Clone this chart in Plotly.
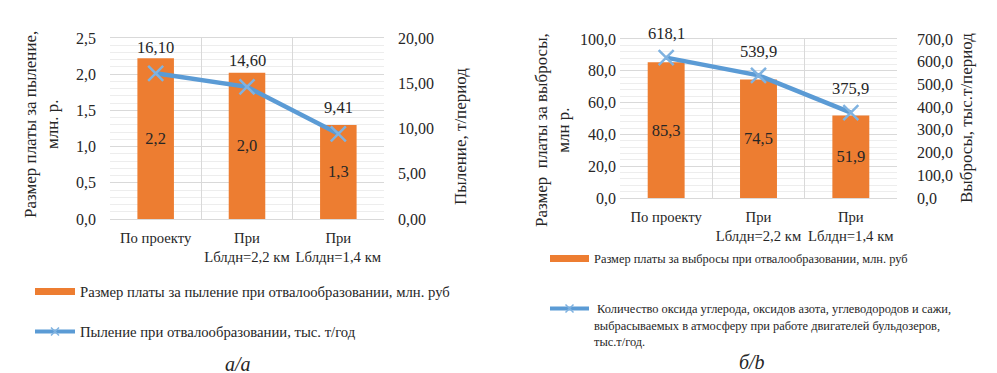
import plotly.graph_objects as go

# ---- data ----
categories = ["По проекту", "При<br>Lблдн=2,2 км", "При<br>Lблдн=1,4 км"]

dust_payment = [2.22, 2.02, 1.30]        # млн. руб (bars, left chart)
dust_amount = [16.10, 14.60, 9.41]       # т/период (line, left chart)

emis_payment = [85.3, 74.5, 51.9]        # млн. руб (bars, right chart)
emis_amount = [618.1, 539.9, 375.9]      # тыс. т/период (line, right chart)

left_ticks_y = [0.0, 0.5, 1.0, 1.5, 2.0, 2.5]
left_ticks_y2 = [0, 5, 10, 15, 20]
right_ticks_y = [0, 20, 40, 60, 80, 100]
right_ticks_y2 = [0, 100, 200, 300, 400, 500, 600, 700]

name_bar_a = "Размер платы за пыление при отвалообразовании, млн. руб"
name_line_a = "Пыление при отвалообразовании, тыс. т/год"
name_bar_b = "Размер платы за выбросы при отвалообразовании, млн. руб"
name_line_b = (" Количество оксида углерода, оксидов азота, углеводородов и сажи,<br>"
               "выбрасываемых в атмосферу при работе двигателей бульдозеров,<br>"
               "тыс.т/год.")

# ---- style ----
W, H = 997, 373
OFF = 8  # page body margin offset of the plot div
FONT = "Liberation Serif"
TXT = "#262626"
ORANGE = "#ED7D31"
BLUE = "#5B9BD5"
MARK = "#7FB2E0"
GRID = "#d9d9d9"
MINOR = "#ededed"


def px_x(p):
    return (p - OFF) / W


def px_y(p):
    return 1 - (p - OFF) / H


def fmt(v, d):
    return f"{v:.{d}f}".replace(".", ",")


fig = go.Figure()


def add_chart(xa, ya, ya2, bars, line, bar_name, line_name, leg_bar, leg_line):
    fig.add_trace(go.Bar(
        x=categories, y=bars, xaxis=xa, yaxis=ya,
        marker_color=ORANGE, width=0.4, showlegend=False,
        text=[fmt(v, 1) for v in bars], textposition="inside", insidetextanchor="middle",
        textfont=dict(family=FONT, size=16.5, color=TXT), textangle=0,
    ))
    fig.add_trace(go.Scatter(
        x=categories, y=line, xaxis=xa, yaxis=ya2,
        mode="lines+markers", line=dict(color=BLUE, width=4.5),
        marker=dict(symbol="x-thin", size=15, line=dict(color=MARK, width=2.5)),
        showlegend=False,
    ))
    # legend-only entries (styled like the reference legend keys)
    fig.add_trace(go.Scatter(
        x=[None], y=[None], xaxis=xa, yaxis=ya, mode="lines",
        line=dict(color=ORANGE, width=7), name=bar_name, legend=leg_bar,
    ))
    fig.add_trace(go.Scatter(
        x=[None], y=[None], xaxis=xa, yaxis=ya2, mode="lines+markers",
        line=dict(color=BLUE, width=4),
        marker=dict(symbol="x-thin", size=8, line=dict(color=MARK, width=1.5)),
        name=line_name, legend=leg_line,
    ))


add_chart("x", "y", "y2", dust_payment, dust_amount, name_bar_a, name_line_a, "legend", "legend2")
add_chart("x2", "y3", "y4", emis_payment, emis_amount, name_bar_b, name_line_b, "legend3", "legend4")

# ---------- line value labels ----------
annotations = []
for c, v in zip(categories, dust_amount):
    annotations.append(dict(x=c, y=v, xref="x", yref="y2", text=fmt(v, 2),
                            showarrow=False, yshift=26, xanchor="center", yanchor="middle",
                            font=dict(family=FONT, size=16.5, color=TXT)))
for c, v in zip(categories, emis_amount):
    annotations.append(dict(x=c, y=v, xref="x2", yref="y4", text=fmt(v, 1),
                            showarrow=False, yshift=24, xanchor="center", yanchor="middle",
                            font=dict(family=FONT, size=16.5, color=TXT)))

# axis titles and captions (screen pixel positions)
title_font = dict(family=FONT, size=17, color=TXT)
paper_texts = [
    (41, 125, "Размер платы за пыление,<br>млн. р.", -90, title_font),
    (460, 137, "Пыление, т/период", -90, title_font),
    (552, 130, "Размер  платы за выбросы,<br>млн р.", -90, title_font),
    (967, 118, "Выбросы, тыс.т/период", -90, title_font),
    (238, 364, "<i>а/а</i>", 0, dict(family=FONT, size=20, color=TXT)),
    (752, 362, "<i>б/b</i>", 0, dict(family=FONT, size=20, color=TXT)),
]
for px, py, t, ang, f in paper_texts:
    annotations.append(dict(x=px_x(px), y=px_y(py), xref="paper", yref="paper",
                            xanchor="center", yanchor="middle", showarrow=False,
                            text=t, textangle=ang, font=f))

xtick_font = dict(family=FONT, size=14.7, color=TXT)
ytick_font = dict(family=FONT, size=16, color=TXT)

xcommon = dict(type="category", range=[-0.5, 2.5], tickson="boundaries",
               showgrid=True, gridcolor=GRID, gridwidth=1, tickangle=0,
               showline=True, linecolor=GRID, mirror=True, ticks="",
               tickfont=xtick_font, automargin=False, zeroline=False,
               ticklabelstandoff=5)

ycommon = dict(showline=False, zeroline=False, tickfont=ytick_font, ticks="",
               automargin=False)

legend_common = dict(xanchor="left", bgcolor="rgba(0,0,0,0)")

fig.update_layout(
    template="none",
    width=W, height=H, autosize=False,
    margin=dict(l=0, r=0, t=0, b=0, pad=0),
    paper_bgcolor="white", plot_bgcolor="white",
    font=dict(family=FONT, color=TXT),
    barmode="overlay",
    xaxis=dict(domain=[px_x(110), px_x(384)], anchor="y", **xcommon),
    yaxis=dict(domain=[px_y(219), px_y(38)], anchor="x", range=[0, 2.5],
               tickvals=left_ticks_y, ticktext=[fmt(v, 1) for v in left_ticks_y],
               showgrid=True, gridcolor=GRID,
               minor=dict(dtick=0.1, showgrid=True, gridcolor=MINOR, ticks=""),
               ticklabelstandoff=13, **ycommon),
    yaxis2=dict(overlaying="y", side="right", anchor="x", range=[0, 20],
                tickvals=left_ticks_y2, ticktext=[fmt(v, 2) for v in left_ticks_y2],
                showgrid=False, ticklabelstandoff=13, **ycommon),
    xaxis2=dict(domain=[px_x(620), px_x(897)], anchor="y3", **xcommon),
    yaxis3=dict(domain=[px_y(198), px_y(39)], anchor="x2", range=[0, 100],
                tickvals=right_ticks_y, ticktext=[fmt(v, 1) for v in right_ticks_y],
                showgrid=True, gridcolor=GRID,
                minor=dict(dtick=4, showgrid=True, gridcolor=MINOR, ticks=""),
                ticklabelstandoff=3, **ycommon),
    yaxis4=dict(overlaying="y3", side="right", anchor="x2", range=[0, 700],
                tickvals=right_ticks_y2, ticktext=[fmt(v, 1) for v in right_ticks_y2],
                showgrid=False, ticklabelstandoff=19, **ycommon),
    legend=dict(x=px_x(30), y=px_y(292), yanchor="middle", itemwidth=40,
                font=dict(family=FONT, size=14.7, color=TXT), **legend_common),
    legend2=dict(x=px_x(30), y=px_y(332), yanchor="middle", itemwidth=40,
                 font=dict(family=FONT, size=14.7, color=TXT), **legend_common),
    legend3=dict(x=px_x(545), y=px_y(259), yanchor="middle", itemwidth=39,
                 font=dict(family=FONT, size=12.4, color=TXT), **legend_common),
    legend4=dict(x=px_x(545), y=px_y(294), yanchor="top", itemwidth=39, valign="top",
                 font=dict(family=FONT, size=12.4, color=TXT), **legend_common),
    annotations=annotations,
)

fig.write_html("out.html")
